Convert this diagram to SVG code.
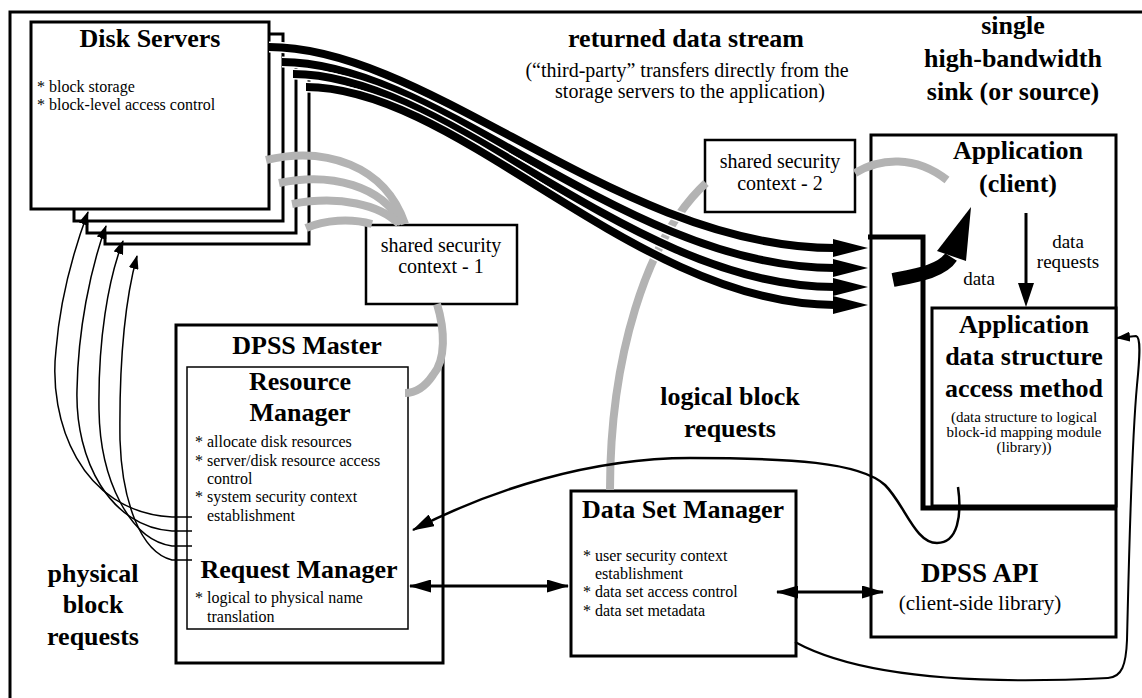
<svg xmlns="http://www.w3.org/2000/svg" width="1142" height="698" viewBox="0 0 1142 698">
<style>
.frame{fill:none;stroke:#000;stroke-width:3}
.box{fill:#fff;stroke:#000;stroke-width:3}
.thinbox{fill:#fff;stroke:#000;stroke-width:1.5}
.tt{font-family:'Liberation Serif','Times New Roman',serif;fill:#000}
.h{font-size:26px;font-weight:bold;text-anchor:middle}
.m{font-size:20px;text-anchor:middle}
.s{font-size:16px}
.sc{font-size:15px;text-anchor:middle}
.n19{font-size:19px;text-anchor:middle}
.gray{fill:none;stroke:#b3b3b3;stroke-width:8}
.sh{fill:none;stroke:#fff;stroke-width:11}
.st{fill:none;stroke:#000;stroke-width:8}
.wire{fill:none;stroke:#000;stroke-width:1.5}
.wire2{fill:none;stroke:#000;stroke-width:2.5}
.fill{fill:#000;stroke:none}
</style>
<defs>
<marker id="ahs" markerUnits="userSpaceOnUse" markerWidth="14" markerHeight="10" refX="13" refY="5" orient="auto"><path d="M0,0 L14,5 L0,10 z" fill="#000"/></marker>
<marker id="ahm" markerUnits="userSpaceOnUse" markerWidth="22" markerHeight="13" refX="21" refY="6.5" orient="auto-start-reverse"><path d="M0,0 L22,6.5 L0,13 z" fill="#000"/></marker>
</defs>
<rect width="1142" height="698" fill="#fff"/>
<g id="frame"><path class="frame" d="M10,698 L10,12 L1142,12"/></g>

<g id="disk-servers">
<rect class="box" x="105" y="72" width="204" height="172"/>
<rect class="box" x="87" y="60" width="209" height="173"/>
<rect class="box" x="74" y="34" width="209" height="187"/>
<rect class="box" x="31" y="22" width="238" height="187"/>
<text class="tt h" x="150" y="47">Disk Servers</text>
<text class="tt s" x="37" y="92">* block storage</text>
<text class="tt s" x="37" y="110">* block-level access control</text>
</g>

<g id="shared-security-context-1">
<rect class="box" x="366" y="225" width="151" height="79" style="stroke-width:2.5"/>
<text class="tt m" x="441" y="252">shared security</text>
<text class="tt m" x="441" y="273">context - 1</text>
</g>

<g id="shared-security-context-2">
<rect class="box" x="705" y="140" width="150" height="72" style="stroke-width:2.5"/>
<text class="tt m" x="780" y="168">shared security</text>
<text class="tt m" x="780" y="190">context - 2</text>
</g>

<g id="application">
<rect class="box" x="871" y="135" width="245" height="502"/>
<text class="tt h" x="1018" y="159">Application</text>
<text class="tt h" x="1018" y="192">(client)</text>
<path d="M868,237 L923,237 L923,508 L1116,508" fill="none" stroke="#000" stroke-width="5"/>
</g>

<g id="app-access-method">
<rect class="box" x="932" y="308" width="184" height="198"/>
<text class="tt h" x="1024" y="333">Application</text>
<text class="tt h" x="1024" y="365">data structure</text>
<text class="tt h" x="1024" y="397">access method</text>
<text class="tt sc" x="1024" y="422">(data structure to logical</text>
<text class="tt sc" x="1024" y="437">block-id mapping module</text>
<text class="tt sc" x="1024" y="452">(library))</text>
</g>

<g id="dpss-api">
<text class="tt h" x="980" y="582" style="font-size:27px">DPSS API</text>
<text class="tt m" x="980" y="610" style="font-size:21px">(client-side library)</text>
</g>

<g id="dpss-master">
<rect class="box" x="176" y="325" width="267" height="338"/>
<text class="tt h" x="307" y="354">DPSS Master</text>
</g>

<g id="resource-manager">
<rect class="thinbox" x="187" y="367" width="221" height="262"/>
<text class="tt h" x="300" y="390">Resource</text>
<text class="tt h" x="300" y="421">Manager</text>
<text class="tt s" x="195" y="447">* allocate disk resources</text>
<text class="tt s" x="195" y="466">* server/disk resource access</text>
<text class="tt s" x="207" y="484">control</text>
<text class="tt s" x="195" y="502">* system security context</text>
<text class="tt s" x="207" y="521">establishment</text>
</g>

<g id="request-manager">
<text class="tt h" x="299" y="578">Request Manager</text>
<text class="tt s" x="195" y="603">* logical to physical name</text>
<text class="tt s" x="207" y="622">translation</text>
</g>

<g id="data-set-manager">
<rect class="box" x="571" y="491" width="225" height="165"/>
<text class="tt h" x="683" y="518">Data Set Manager</text>
<text class="tt s" x="583" y="561">* user security context</text>
<text class="tt s" x="595" y="579">establishment</text>
<text class="tt s" x="583" y="597">* data set access control</text>
<text class="tt s" x="583" y="616">* data set metadata</text>
</g>

<g id="labels">
<text class="tt h" x="686" y="47">returned data stream</text>
<text class="tt m" x="687" y="77">(“third-party” transfers directly from the</text>
<text class="tt m" x="690" y="98">storage servers to the application)</text>
<text class="tt h" x="1013" y="34">single</text>
<text class="tt h" x="1013" y="67">high-bandwidth</text>
<text class="tt h" x="1013" y="100">sink (or source)</text>
<text class="tt h" x="730" y="405">logical block</text>
<text class="tt h" x="730" y="437">requests</text>
<text class="tt h" x="93" y="582">physical</text>
<text class="tt h" x="93" y="613">block</text>
<text class="tt h" x="93" y="645">requests</text>
<text class="tt n19" x="1068" y="248">data</text>
<text class="tt n19" x="1068" y="268">requests</text>
<text class="tt n19" x="979" y="285">data</text>
</g>

<g id="connectors">
<path class="gray" d="M266,160 C325,146 385,165 405,224"/>
<path class="gray" d="M279,183 C332,172 382,186 402,224"/>
<path class="gray" d="M292,204 C340,195 380,205 399,224"/>
<path class="gray" d="M306,228 C325,220 350,218 372,224"/>
<path class="gray" d="M437,304 C445,330 446,360 433,375 C425,387 415,393 405,393"/>
<path class="gray" d="M610,490 C610,360 645,240 706,183"/>
<path class="gray" d="M855,173 C880,158 915,155 947,180"/>
<path class="sh" d="M269,47 C430,47 620,248 835,248"/>
<path class="st" d="M269,47 C430,47 620,248 835,248"/>
<path class="sh" d="M282,62 C440,62 625,268 835,268"/>
<path class="st" d="M282,62 C440,62 625,268 835,268"/>
<path class="sh" d="M293,74 C450,74 630,287 835,287"/>
<path class="st" d="M293,74 C450,74 630,287 835,287"/>
<path class="sh" d="M306,87 C460,87 635,305 835,305"/>
<path class="st" d="M306,87 C460,87 635,305 835,305"/>
<polygon class="fill" points="833,239 868,248 833,257"/>
<polygon class="fill" points="833,259 868,268 833,277"/>
<polygon class="fill" points="833,278 868,287 833,296"/>
<polygon class="fill" points="833,296 868,305 833,314"/>
<path d="M893,280 C918,275 942,271 951,257" fill="none" stroke="#000" stroke-width="14"/>
<polygon class="fill" points="937,251 966,261 971,207"/>
<line x1="1026" y1="213" x2="1026" y2="286" stroke="#000" stroke-width="3"/>
<polygon class="fill" points="1018,283 1034,283 1026,307"/>
<path class="wire" marker-end="url(#ahs)" d="M192,517 L172,517 C80,512 48,420 56,350 C60,300 72,255 88,212"/>
<path class="wire" marker-end="url(#ahs)" d="M192,531 L172,531 C110,527 75,460 77,390 C78,330 90,270 106,226"/>
<path class="wire" marker-end="url(#ahs)" d="M192,546 L172,546 C130,540 100,480 99,410 C98,340 108,280 123,241"/>
<path class="wire" marker-end="url(#ahs)" d="M192,560 L172,560 C140,552 122,500 120,440 C119,360 125,300 137,256"/>
<path class="wire2" marker-end="url(#ahm)" d="M958,487 C962,515 958,543 937,543 C915,543 905,505 885,485 C860,462 790,458 690,458 C590,458 490,490 413,530"/>
<path class="wire2" marker-start="url(#ahm)" marker-end="url(#ahm)" d="M410,586 L568,586" style="stroke-width:3"/>
<path class="wire2" marker-start="url(#ahm)" marker-end="url(#ahm)" d="M777,592 L883,592" style="stroke-width:3"/>
<path class="wire" style="stroke-width:2" marker-end="url(#ahs)" d="M795,642 C850,672 950,686 1108,678 C1122,677 1126,665 1127,640 C1129,560 1131,450 1137,385 C1140,355 1141,337 1136,336 L1117,338"/>
</g>
</svg>
